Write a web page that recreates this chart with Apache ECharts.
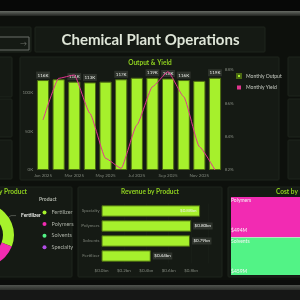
<!DOCTYPE html>
<html>
<head>
<meta charset="UTF-8">
<title>Chemical Plant Operations</title>
<script src="https://cdn.jsdelivr.net/npm/echarts@6/dist/echarts.min.js"></script>
<style>
  html, body { margin: 0; padding: 0; background: #0d100c; }
  #main { width: 300px; height: 300px; }
</style>
</head>
<body>
<div id="main"></div>
<script>
// monthly output / yield
var months = ['Jan 2025', 'Feb 2025', 'Mar 2025', 'Apr 2025', 'May 2025', 'Jun 2025',
              'Jul 2025', 'Aug 2025', 'Sep 2025', 'Oct 2025', 'Nov 2025', 'Dec 2025'];
var outputK = [116, 117, 114, 113, 114, 117, 119, 119, 118, 116, 115, 119];
var outputLabelOn = [1, 0, 1, 1, 0, 1, 0, 1, 1, 1, 0, 1];
var yieldPct = [85.0, 87.5, 87.7, 85.4, 82.7, 82.1, 84.7, 87.0, 87.9, 86.4, 83.4, 82.0];
var yieldLabelOn = [1, 1, 0, 1, 1, 1, 1, 1, 0, 0, 1, 1];
var yieldLabelBelow = [1, 0, 0, 0, 0, 0, 1, 0, 0, 0, 0, 0];

// products
var products = ['Fertilizer', 'Polymers', 'Solvents', 'Specialty'];
var productColors = ['#a6f22c', '#f22bb2', '#52f386', '#b24ee6'];
var outputShare = [31, 26, 23, 20];
var revenueCats = ['Fertilizer', 'Solvents', 'Polymers', 'Specialty'];
var revenueBn = [0.44, 0.79, 0.80, 0.88];
var costNames = ['Polymers', 'Solvents'];
var costM = [494, 459];

var lime = '#a6f02c';
var limeEdge = '#4b6a12';
var pink = '#e2358f';
var axisGray = '#7f857b';
var panel = '#151a14';
var panelEdge = '#1e251c';

var myChart = echarts.init(document.getElementById('main'));

function box(x, y, w, h) {
    return { type: 'rect', z: -10, shape: { x: x, y: y, width: w, height: h, r: 1 },
             style: { fill: panel, stroke: panelEdge, lineWidth: 1 } };
}
function txt(x, y, s, font, color, align) {
    return { type: 'text', z: 5, style: { x: x, y: y, text: s, font: font, fill: color,
             textAlign: align || 'center', textVerticalAlign: 'middle' } };
}

var barData = outputK.map(function (v, i) {
    return { value: v, label: { show: !!outputLabelOn[i] } };
});
var lineData = yieldPct.map(function (v, i) {
    return { value: v, label: { show: !!yieldLabelOn[i], position: yieldLabelBelow[i] ? 'bottom' : 'top' } };
});
var pieData = products.map(function (p, i) {
    return { name: p, value: outputShare[i], itemStyle: { color: productColors[i] },
             label: { show: i === 0 }, labelLine: { show: i === 0 } };
});
var revData = revenueBn.map(function (v, i) {
    var inside = i === revenueBn.length - 1;
    return { value: v, label: inside ? { position: 'insideRight', backgroundColor: 'transparent' } : {} };
});
var costData = costNames.map(function (n, i) {
    return { name: n, value: costM[i], itemStyle: { color: productColors[products.indexOf(n)] } };
});

var option = {
    animation: false,
    backgroundColor: '#0d100c',
    textStyle: { fontFamily: 'Lato' },
    graphic: [
        // bezel
        { type: 'rect', z: -20, shape: { x: 0, y: 0, width: 300, height: 12 }, style: { fill: '#070807' } },
        { type: 'rect', z: -20, shape: { x: 0, y: 11, width: 300, height: 5 },
          style: { fill: new echarts.graphic.LinearGradient(0, 0, 0, 1, [
              { offset: 0, color: '#676b65' }, { offset: 1, color: '#20231f' }]) } },
        { type: 'rect', z: -20, shape: { x: 0, y: 280, width: 300, height: 20 }, style: { fill: '#0b0c0b' } },
        { type: 'rect', z: -20, shape: { x: 0, y: 285, width: 300, height: 5 },
          style: { fill: new echarts.graphic.LinearGradient(0, 0, 0, 1, [
              { offset: 0, color: '#50534f' }, { offset: 1, color: '#2b2d2a' }]) } },
        { type: 'rect', z: -20, shape: { x: 0, y: 290, width: 300, height: 10 }, style: { fill: '#161716' } },
        // panels
        box(-3, 27, 34, 25),
        { type: 'rect', z: -5, shape: { x: -2, y: 37, width: 31, height: 13 },
          style: { fill: 'transparent', stroke: '#6b6f69', lineWidth: 1 } },
        txt(23.5, 43.5, '\u2192', '7px Lato', '#6b6f69'),
        box(35, 27, 230, 25),
        box(-3, 57, 15, 40), box(-3, 99, 15, 38), box(-3, 140, 15, 39),
        box(20, 57, 259, 123),
        box(288, 57, 15, 39), box(288, 99, 15, 38), box(288, 140, 15, 39),
        box(-5, 187, 77, 90), box(78, 187, 144, 90), box(228, 187, 80, 90),
        // titles
        txt(150.5, 40, 'Chemical Plant Operations', 'bold 15px Lato', '#dfe6d8'),
        txt(150, 62.5, 'Output & Yield', 'bold 6.5px Lato', '#8fd11f'),
        txt(27, 192, 'Output by Product', 'bold 6.5px Lato', '#8fd11f', 'right'),
        txt(150, 192, 'Revenue by Product', 'bold 6.5px Lato', '#8fd11f'),
        txt(276, 192, 'Cost by Product', 'bold 6.5px Lato', '#8fd11f', 'left'),
        txt(39, 199, 'Product', 'bold 5px Lato', '#b4b9af', 'left')
    ],
    legend: [
        { data: ['Monthly Output', 'Monthly Yield'], orient: 'vertical', left: 231, top: 68,
          itemWidth: 4, itemHeight: 4, itemGap: 6, icon: 'rect',
          textStyle: { color: '#c9cdc4', fontSize: 5 } },
        { data: products, orient: 'vertical', left: 37.5, top: 204.5,
          itemWidth: 4, itemHeight: 4, itemGap: 5.6, icon: 'circle',
          textStyle: { color: '#a9aea4', fontSize: 5.5 } }
    ],
    grid: [
        { left: 35.2, right: 77.2, top: 70, bottom: 130 },
        { left: 101.5, top: 203.5, height: 60, width: 106.4 }
    ],
    xAxis: [
        { type: 'category', gridIndex: 0, data: months,
          axisLine: { show: false }, axisTick: { show: false },
          axisLabel: { interval: 1, color: axisGray, fontSize: 4.5, margin: 3 } },
        { type: 'value', gridIndex: 1, min: 0, max: 0.95, interval: 0.2,
          axisLine: { show: false }, axisTick: { show: false },
          splitLine: { lineStyle: { color: '#1d231b', width: 0.5 } },
          axisLabel: { color: axisGray, fontSize: 4.5, margin: 5, showMaxLabel: false,
                       formatter: function (v) { return '$' + v.toFixed(1) + 'bn'; } } }
    ],
    yAxis: [
        { type: 'value', gridIndex: 0, min: 0, max: 129, interval: 50,
          splitLine: { show: false },
          axisLabel: { color: axisGray, fontSize: 4.5, margin: 2, showMaxLabel: false, formatter: '{value}K' } },
        { type: 'value', gridIndex: 0, position: 'right', min: 82, max: 88, interval: 2,
          splitLine: { show: false },
          axisLabel: { color: axisGray, fontSize: 4.5, margin: 2, formatter: '{value}%' } },
        { type: 'category', gridIndex: 1, data: revenueCats,
          axisLine: { show: false }, axisTick: { show: false },
          axisLabel: { color: axisGray, fontSize: 4.5, margin: 2 } }
    ],
    series: [
        { name: 'Monthly Output', type: 'bar', xAxisIndex: 0, yAxisIndex: 0, data: barData,
          barCategoryGap: '22%',
          itemStyle: { color: lime, borderColor: limeEdge, borderWidth: 1 },
          label: { position: 'top', distance: 1.5, formatter: '{c}K', fontSize: 4.5,
                   color: '#e8ebe5', backgroundColor: '#2e332c', padding: [1, 1.5] } },
        { name: 'Monthly Yield', type: 'line', xAxisIndex: 0, yAxisIndex: 1, data: lineData,
          smooth: 0.15, smoothMonotone: 'x', symbol: 'none', z: 4,
          itemStyle: { color: pink }, lineStyle: { color: pink, width: 1 },
          label: { distance: 2, fontSize: 4.5, color: '#e8ebe5', backgroundColor: '#2e332c',
                   padding: [1, 1.5], formatter: function (p) { return p.value.toFixed(1) + '%'; } } },
        { name: 'Output by Product', type: 'pie', center: [-17.5, 235], radius: [20.5, 31.5],
          data: pieData, startAngle: 90, clockwise: true, avoidLabelOverlap: false,
          itemStyle: { borderWidth: 0 },
          label: { formatter: '{b}', fontSize: 5, fontWeight: 'bold', color: '#eef0ec' },
          labelLine: { length: 3, length2: 5, lineStyle: { color: '#8a8f86', width: 0.5 } } },
        { name: 'Revenue', type: 'bar', xAxisIndex: 1, yAxisIndex: 2, data: revData,
          barCategoryGap: '24%',
          itemStyle: { color: lime, borderColor: limeEdge, borderWidth: 1 },
          label: { show: true, position: 'right', distance: 2, fontSize: 4.5, color: '#eef0ec',
                   backgroundColor: '#2e332c', padding: [1, 1.5],
                   formatter: function (p) { return '$' + p.value.toFixed(2) + 'bn'; } } },
        { name: 'Cost by Product', type: 'treemap', left: 231, top: 197, width: 95, height: 78,
          roam: false, nodeClick: false, breadcrumb: { show: false }, data: costData,
          levels: [{ itemStyle: { borderColor: '#cfd3cc', borderWidth: 0, gapWidth: 0.7 } }],
          label: { show: true, position: 'insideTopLeft', padding: 0,
                   formatter: function (p) { return '{n|' + p.name + '}\n{s|}\n{v|$' + p.value + 'M}'; },
                   rich: { n: { fontSize: 5, color: '#f4f4f4', lineHeight: 7 },
                           s: { lineHeight: 23 },
                           v: { fontSize: 5, color: '#f4f4f4', lineHeight: 7 } } } }
    ]
};
myChart.setOption(option);
</script>
</body>
</html>
